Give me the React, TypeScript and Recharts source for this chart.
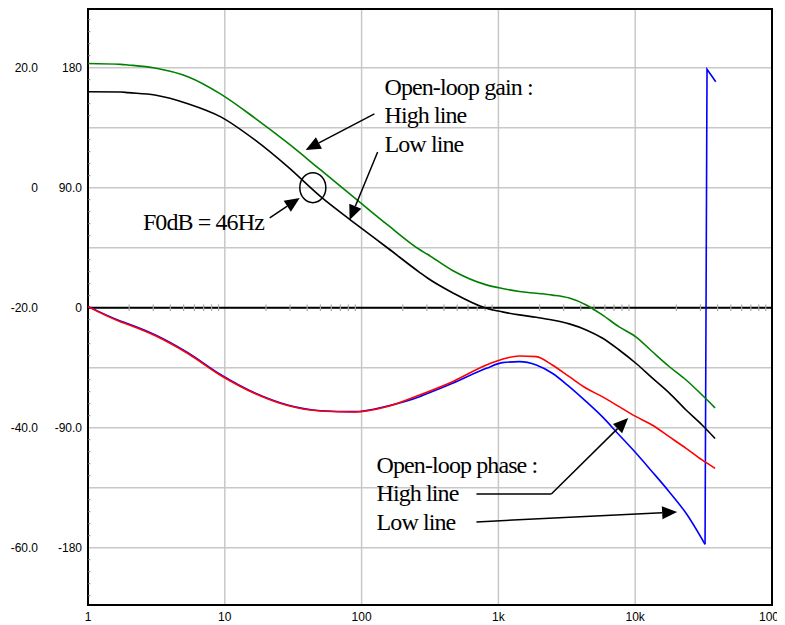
import { LineChart, Line, XAxis, YAxis, CartesianGrid, ReferenceLine, ReferenceArea, ReferenceDot } from 'recharts'

// frequencies (Hz) where the curves were sampled
const freqs = [1, 1.74, 1.96, 3.08, 5.37, 9.35, 16.6, 28.8, 50.2, 88.9, 155, 265, 303, 462, 817, 1069, 1422, 1892, 2477, 3296, 4385, 5741, 7638, 10160, 13300, 17700, 23550, 30830, 38380]

// open-loop gain (dB)
const gainHigh = [20.7, 20.55, 20.45, 19.95, 18.5, 15.6, 11.6, 7.45, 2.95, -1.7, -6.2, -10.3, -11.1, -13.8, -16.2, -16.8, -17.3, -17.6, -17.9, -18.4, -19.55, -21.2, -23.2, -24.9, -27.3, -29.8, -32.05, -34.55, -36.7]
const gainLow = [16.0, 15.95, 15.85, 15.45, 14.0, 11.8, 7.95, 3.5, -1.5, -5.9, -10.05, -14.1, -15.05, -17.5, -20.1, -20.7, -21.2, -21.6, -22.05, -22.7, -23.7, -25.05, -27.05, -29.3, -31.7, -34.2, -37.05, -39.55, -41.8]

// open-loop phase (deg)
const phaseHigh = [0.75, -10.7, -12.6, -20.9, -34.4, -50.9, -64.4, -73.4, -77.5, -78.2, -74.1, -65.5, -63.2, -55.5, -43, -38.7, -36.2, -36.75, -43, -51.75, -60.45, -66.75, -74.25, -81.75, -88, -96.75, -105.5, -114.2, -120.5]
const phaseLowFreqs = [1, 1.74, 1.96, 3.08, 5.37, 9.35, 16.6, 28.8, 50.2, 88.9, 155, 265, 303, 462, 817, 1069, 1422, 1892, 2477, 3296, 4385, 5741, 7638, 10160, 13300, 17700, 23550, 32400]
const phaseLow = [0.9, -10.2, -12.1, -20.3, -33.8, -50.3, -64, -73, -77.3, -78, -73.7, -66.75, -64.4, -56.7, -45.5, -41.25, -40.5, -43, -49.2, -59.25, -70.5, -81.75, -95.5, -109.2, -123, -138, -154.2, -177.5]
// phase wrap of the low line: -180 jumps to +180
const phaseWrapFreqs = [32400, 33500, 38800]
const phaseWrap = [-177.5, 178.8, 169.5]

// axes
const xTicks = [1, 10, 100, 1000, 10000, 100000]
const xTickLabels = ['1', '10', '100', '1k', '10k', '100k']
const dbTicks = [20, 0, -20, -40, -60]
const dbTickLabels = ['20.0', '0', '-20.0', '-40.0', '-60.0']
const phaseTickLabels = ['180', '90.0', '0', '-90.0', '-180']
const gridDb = [-60, -50, -40, -30, -20, -10, 0, 10, 20]
const minorDb = [-68, -66, -64, -62, -58, -56, -54, -52, -48, -46, -44, -42, -38, -36, -34, -32, -28, -26, -24, -22, -18, -16, -14, -12, -8, -6, -4, -2, 2, 4, 6, 8, 12, 14, 16, 18, 22, 24, 26, 28]
const minorFreqs = [1, 10, 100, 1000, 10000].flatMap(d => [2, 3, 4, 5, 6, 7, 8, 9].map(m => m * d))

const DB_DOMAIN = [-69.55, 29.78]
const PHASE_DOMAIN = [-223, 224]

const rows = (fs: number[], vs: number[]) => fs.map((f, i) => ({ f, v: vs[i] }))

const SERIF = '"Liberation Serif", "Times New Roman", serif'

const notes = [
    { x: 147, y: 15.45, text: 'Open-loop gain :' },
    { x: 147, y: 10.8, text: 'High line' },
    { x: 147, y: 5.95, text: 'Low line' },
    { x: 2.52, y: -7.05, text: 'F0dB = 46Hz' },
    { x: 128.6, y: -47.55, text: 'Open-loop phase :' },
    { x: 128.6, y: -52.2, text: 'High line' },
    { x: 128.6, y: -57.05, text: 'Low line' },
]

const arrows = [
    [{ x: 124, y: 12.3 }, { x: 39, y: 6.3 }],
    [{ x: 131, y: 5.95 }, { x: 81.7, y: -5.4 }],
    [{ x: 21.3, y: -5.05 }, { x: 35.3, y: -1.7 }],
    [{ x: 2437, y: -51.05 }, { x: 8890, y: -38.4 }],
    [{ x: 691, y: -55.7 }, { x: 20260, y: -54.05 }],
]

const Arrow = (p: any) => {
    const { x1, y1, x2, y2 } = p
    const dx = x2 - x1
    const dy = y2 - y1
    const len = Math.hypot(dx, dy) || 1
    const ux = dx / len
    const uy = dy / len
    const hl = 15
    const hw = 6.5
    const bx = x2 - ux * hl
    const by = y2 - uy * hl
    return (
        <g>
            <line x1={x1} y1={y1} x2={bx} y2={by} stroke="#000" strokeWidth={1.5} />
            <polygon points={`${x2},${y2} ${bx - uy * hw},${by + ux * hw} ${bx + uy * hw},${by - ux * hw}`} fill="#000" />
        </g>
    )
}

const YTick = (p: any) => {
    const i = dbTicks.indexOf(p.payload.value)
    if (i < 0) return <g />
    return (
        <g>
            <text x={p.x} y={p.y} dy="0.355em" textAnchor="end" fontSize={12} fill="#000">{phaseTickLabels[i]}</text>
            <text x={p.x - 44} y={p.y} dy="0.355em" textAnchor="end" fontSize={12} fill="#000">{dbTickLabels[i]}</text>
        </g>
    )
}

export default function App() {
    return (
        <div style={{ fontFamily: '"Liberation Sans", Arial, sans-serif' }}>
            <LineChart width={777} height={617} margin={{ top: 1, right: 13, bottom: 0, left: 0 }}>
                <CartesianGrid stroke="#c8c8c8" strokeWidth={1.5} />
                <XAxis
                    dataKey="f"
                    type="number"
                    scale="log"
                    domain={[1, 100000]}
                    allowDataOverflow
                    ticks={xTicks}
                    tickFormatter={(v: number) => xTickLabels[xTicks.indexOf(v)] ?? ''}
                    axisLine={false}
                    tickLine={false}
                    tickSize={0}
                    tickMargin={7}
                    height={20}
                    tick={{ fill: '#000', fontSize: 12 }}
                    interval={0}
                />
                <YAxis
                    type="number"
                    domain={DB_DOMAIN}
                    allowDataOverflow
                    ticks={gridDb}
                    interval={0}
                    width={80}
                    axisLine={false}
                    tickLine={false}
                    tickSize={0}
                    tickMargin={6}
                    tick={<YTick />}
                />
                <YAxis yAxisId="phase" type="number" domain={PHASE_DOMAIN} allowDataOverflow hide />

                <ReferenceLine y={-20} stroke="#000" strokeWidth={2} />
                {minorFreqs.map(f => (
                    <ReferenceLine key={`mx-${f}`} segment={[{ x: f, y: -20.55 }, { x: f, y: -19.45 }]} stroke="#a8a8a8" strokeWidth={1.2} />
                ))}
                {minorDb.map(v => (
                    <ReferenceLine key={`my-${v}`} segment={[{ x: 1, y: v }, { x: 1.04, y: v }]} stroke="#777" strokeWidth={1} />
                ))}

                <Line data={rows(phaseLowFreqs, phaseLow)} yAxisId="phase" dataKey="v" type="monotone" stroke="#0000ff" strokeWidth={1.6} dot={false} isAnimationActive={false} />
                <Line data={rows(phaseWrapFreqs, phaseWrap)} yAxisId="phase" dataKey="v" type="linear" stroke="#0000ff" strokeWidth={1.6} dot={false} isAnimationActive={false} />
                <Line data={rows(freqs, phaseHigh)} yAxisId="phase" dataKey="v" type="monotone" stroke="#ff0000" strokeWidth={1.6} dot={false} isAnimationActive={false} />
                <Line data={rows(freqs, gainHigh)} dataKey="v" type="monotone" stroke="#008000" strokeWidth={1.6} dot={false} isAnimationActive={false} />
                <Line data={rows(freqs, gainLow)} dataKey="v" type="monotone" stroke="#000000" strokeWidth={1.6} dot={false} isAnimationActive={false} />

                <ReferenceArea x1={1} x2={100000} y1={DB_DOMAIN[0]} y2={DB_DOMAIN[1]} fill="none" stroke="#000" strokeWidth={2} fillOpacity={0} />

                <ReferenceLine segment={[{ x: 691, y: -51.05 }, { x: 2437, y: -51.05 }]} stroke="#000" strokeWidth={1.5} />
                {arrows.map((a, i) => (
                    <ReferenceLine key={`ar-${i}`} segment={a} shape={Arrow} />
                ))}
                <ReferenceDot
                    x={44}
                    y={0}
                    r={14}
                    shape={(p: any) => <ellipse cx={p.cx} cy={p.cy} rx={13} ry={15} fill="none" stroke="#000" strokeWidth={1.5} />}
                />
                {notes.map((n, i) => (
                    <ReferenceDot
                        key={`n-${i}`}
                        x={n.x}
                        y={n.y}
                        r={0}
                        shape={(p: any) => (
                            <text x={p.cx} y={p.cy} fontFamily={SERIF} fontSize={24} letterSpacing={-0.9} fill="#000">{n.text}</text>
                        )}
                    />
                ))}
            </LineChart>
        </div>
    )
}
